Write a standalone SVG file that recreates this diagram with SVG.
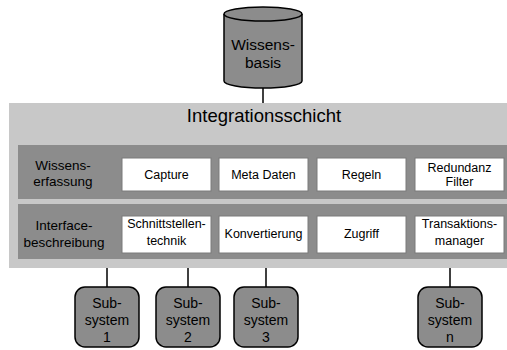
<svg xmlns="http://www.w3.org/2000/svg" width="507" height="350" viewBox="0 0 507 350">
<style>
text{font-family:"Liberation Sans",Arial,sans-serif;fill:#000;text-anchor:middle}
.box{fill:#fff;stroke:#7a7a7a;stroke-width:1}
.band{fill:#8c8c8c}
.sub{fill:#8c8c8c;stroke:#000;stroke-width:1.5}
.bt{font-size:12.5px}
.lt{font-size:13.5px}
.st{font-size:14px}
.conn{stroke:#000;stroke-width:1.5;fill:none}
</style>
<g id="connectors">
<line class="conn" x1="263" y1="88" x2="263" y2="103"/>
<line class="conn" x1="107" y1="268" x2="107" y2="287"/>
<line class="conn" x1="188" y1="268" x2="188" y2="287"/>
<line class="conn" x1="266" y1="268" x2="266" y2="287"/>
<line class="conn" x1="450" y1="268" x2="450" y2="287"/>
</g>
<g id="wissensbasis">
<path d="M224,14 L224,81 A39,7 0 0 0 302,81 L302,14" fill="#8c8c8c" stroke="#000" stroke-width="1.5"/>
<ellipse cx="263" cy="14" rx="39" ry="7" fill="#8c8c8c" stroke="#000" stroke-width="1.5"/>
<text x="263" y="50" style="font-size:15.5px">Wissens-</text>
<text x="263" y="68" style="font-size:15.5px">basis</text>
</g>
<g id="integrationsschicht">
<rect x="9" y="103" width="498" height="165" fill="#c8c8c8"/>
<text x="264" y="122" style="font-size:18.5px">Integrationsschicht</text>
</g>
<g id="wissenserfassung">
<rect class="band" x="18" y="145" width="489" height="54"/>
<text class="lt" x="63" y="170">Wissens-</text>
<text class="lt" x="63" y="186">erfassung</text>
</g>
<g id="capture"><rect class="box" x="122" y="158" width="89" height="33"/><text class="bt" x="166.5" y="179">Capture</text></g>
<g id="metadaten"><rect class="box" x="219" y="158" width="89" height="33"/><text class="bt" x="263.5" y="179">Meta Daten</text></g>
<g id="regeln"><rect class="box" x="317" y="158" width="89" height="33"/><text class="bt" x="361.5" y="179">Regeln</text></g>
<g id="redundanzfilter"><rect class="box" x="415" y="158" width="89" height="33"/><text class="bt" x="459.5" y="172">Redundanz</text><text class="bt" x="459.5" y="186">Filter</text></g>
<g id="interfacebeschreibung">
<rect class="band" x="18" y="204" width="489" height="55"/>
<text class="lt" x="64" y="230">Interface-</text>
<text class="lt" x="64" y="247">beschreibung</text>
</g>
<g id="schnittstellentechnik"><rect class="box" x="122" y="216" width="89" height="37"/><text class="bt" x="166.5" y="228">Schnittstellen-</text><text class="bt" x="166.5" y="245">technik</text></g>
<g id="konvertierung"><rect class="box" x="219" y="216" width="89" height="37"/><text class="bt" x="263.5" y="238">Konvertierung</text></g>
<g id="zugriff"><rect class="box" x="317" y="216" width="89" height="37"/><text class="bt" x="361.5" y="238">Zugriff</text></g>
<g id="transaktionsmanager"><rect class="box" x="415" y="216" width="89" height="37"/><text class="bt" x="459.5" y="228">Transaktions-</text><text class="bt" x="459.5" y="245">manager</text></g>
<g id="subsystem1"><rect class="sub" x="75" y="287" width="64" height="60" rx="10"/><text class="st" x="107" y="308">Sub-</text><text class="st" x="107" y="325">system</text><text class="st" x="107" y="342">1</text></g>
<g id="subsystem2"><rect class="sub" x="156" y="287" width="64" height="60" rx="10"/><text class="st" x="188" y="308">Sub-</text><text class="st" x="188" y="325">system</text><text class="st" x="188" y="342">2</text></g>
<g id="subsystem3"><rect class="sub" x="234" y="287" width="64" height="60" rx="10"/><text class="st" x="266" y="308">Sub-</text><text class="st" x="266" y="325">system</text><text class="st" x="266" y="342">3</text></g>
<g id="subsystemn"><rect class="sub" x="418" y="287" width="64" height="60" rx="10"/><text class="st" x="450" y="308">Sub-</text><text class="st" x="450" y="325">system</text><text class="st" x="450" y="342">n</text></g>
</svg>
